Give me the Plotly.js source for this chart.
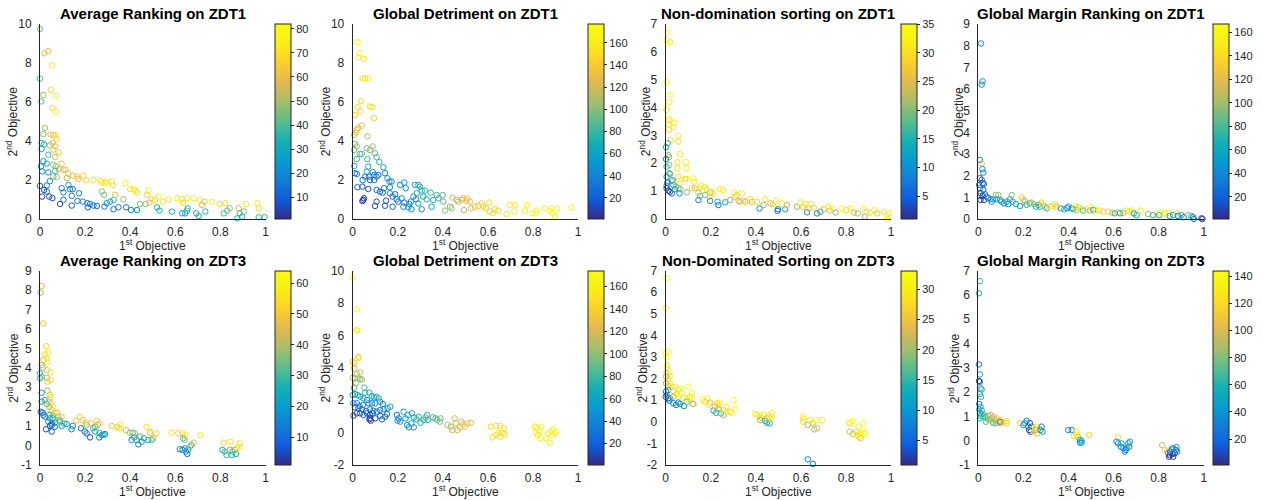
<!DOCTYPE html>
<html>
<head>
<meta charset="utf-8">
<script src="https://cdn.plot.ly/plotly-3.0.1.min.js"></script>
<style>html,body{margin:0;padding:0;background:#fff;}#chart{width:1262px;height:500px;}</style>
</head>
<body>
<div id="chart"></div>
<script>
// ---------- DATA ----------
// Panel titles
const panelTitles = [
  'Average Ranking on ZDT1', 'Global Detriment on ZDT1', 'Non-domination sorting on ZDT1', 'Global Margin Ranking on ZDT1',
  'Average Ranking on ZDT3', 'Global Detriment on ZDT3', 'Non-Dominated Sorting on ZDT3', 'Global Margin Ranking on ZDT3'
];
const xTitle = '1<sup>st</sup> Objective';
const yTitle = '2<sup>nd</sup> Objective';
const xTickVals = [0, 0.2, 0.4, 0.6, 0.8, 1];
const xTickText = ['0', '0.2', '0.4', '0.6', '0.8', '1'];
const yRanges = [[0,10],[0,10],[0,7],[0,9],[-1,9],[-2,10],[-2,7],[-1,7]];
const yTickSteps = [2,2,1,1,1,2,1,1];
const rankMax = [82, 177, 35, 167, 64, 174, 33, 144];
const rankTickSteps = [10, 20, 5, 20, 10, 20, 5, 20];

// Panel 1: Average Ranking on ZDT1
const p1x = [0,0.02,0.037,0.055,0,0.049,0.071,0.015,0.006,0.055,
0.071,0.022,0.015,0.047,0.059,0.067,0.074,0.007,0.018,0.044,
0.056,0.067,0.007,0.059,0.083,0.037,0.067,0.015,0.03,0.096,
0.059,0.004,0.071,0.083,0.104,0.067,0.01,0.037,0.113,0.126,
0.145,0.163,0.193,0.059,0.074,0.119,0.17,0.204,0.237,0.267,
0.274,0.289,0.293,0.319,0.323,0.379,0.4,0.415,0.422,0.43,
0.481,0.474,0,0.03,0.044,0.018,0.03,0.009,0.041,0.055,
0.096,0.104,0.126,0.133,0.141,0.145,0.173,0.089,0.104,0.141,
0.166,0.19,0.21,0.212,0.222,0.237,0.252,0.274,0.284,0.286,
0.296,0.311,0.326,0.333,0.326,0.348,0.37,0.382,0.404,0.43,
0.444,0.468,0.486,0.496,0.511,0.519,0.526,0.545,0.53,0.57,
0.585,0.607,0.63,0.634,0.652,0.63,0.644,0.655,0.652,0.681,
0.708,0.693,0.704,0.719,0.729,0.733,0.763,0.797,0.822,0.815,
0.83,0.841,0.874,0.881,0.886,0.896,0.904,0.914,0.963,0.97,
0.97,0.996];
const p1y = [9.74,8.5,8.62,7.88,7.2,6.63,6.32,6.36,6.03,5.69,
5.5,4.67,4.35,4.33,4.31,4.28,4.1,3.9,3.83,3.78,
3.9,3.73,3.59,3.56,3.42,3.3,3.18,2.96,2.84,2.84,
2.78,2.7,2.7,2.56,2.53,2.47,2.44,2.39,2.53,2.32,
2.23,2.18,2.22,2.18,2.15,2.1,2.06,1.98,2.01,1.98,
1.87,1.84,1.92,1.92,1.75,1.84,1.53,1.53,1.46,1.36,
1.46,1.24,1.7,1.72,1.94,1.49,1.41,1.15,1.15,1.07,
1.58,1.36,1.75,1.53,1.19,1.53,1.32,0.77,0.98,0.69,
0.93,0.89,0.81,0.6,0.77,0.69,0.67,1.41,1.24,0.64,
0.81,0.89,0.98,1.24,0.5,0.6,1.01,0.6,0.46,0.46,
0.77,0.77,0.84,1.01,0.98,0.6,1.15,0.89,0.43,1.01,
0.38,1.07,1.01,0.84,1.07,0.29,0.29,0.55,0.43,1.07,
0.98,0.29,0.15,0.72,0.89,0.38,0.89,0.77,0.81,0.29,
0.43,0.55,0.03,0.55,0.29,0.12,0.38,0.77,0.81,0.55,
0.09,0.09];
const p1c = [45,60,60,72,40,70,75,50,40,70,
72,50,45,60,62,68,70,35,35,50,
58,60,30,58,68,38,60,25,32,62,
50,22,48,58,60,38,20,22,62,62,
63,65,68,45,48,50,58,68,72,72,
72,72,75,72,70,78,72,74,72,70,
78,68,10,15,22,8,10,5,5,6,
18,15,28,20,18,15,18,5,12,8,
15,18,15,12,20,12,10,48,45,15,
22,30,35,60,12,15,48,15,18,20,
45,48,55,68,70,35,76,70,32,72,
30,78,72,68,78,28,25,35,38,78,
76,30,32,58,60,35,76,70,68,38,
42,48,35,58,38,32,45,76,78,70,
35,38];

// Panel 2: Global Detriment on ZDT1
const p2x = [0.022,0.03,0.025,0.05,0.044,0.055,0.069,0.037,0.022,0.033,
0.077,0.087,0.01,0.095,0.04,0.025,0.018,0.015,0.006,0.065,
0.01,0.007,0.018,0.032,0.04,0.062,0.077,0.089,0.099,0.106,
0.118,0.018,0.007,0.065,0.069,0.062,0.089,0.136,0.01,0.018,
0.055,0.072,0.096,0.106,0.114,0.143,0.154,0.044,0.077,0.095,
0.163,0.173,0.021,0.043,0.069,0.106,0.121,0.133,0.139,0.165,
0.21,0.229,0.235,0.165,0.188,0.195,0.217,0.177,0.05,0.047,
0.043,0.106,0.099,0.148,0.143,0.177,0.202,0.225,0.229,0.247,
0.251,0.258,0.269,0.276,0.291,0.298,0.284,0.281,0.291,0.261,
0.306,0.306,0.32,0.313,0.328,0.346,0.35,0.357,0.372,0.38,
0.399,0.402,0.409,0.431,0.439,0.443,0.461,0.468,0.483,0.49,
0.493,0.505,0.508,0.52,0.524,0.542,0.557,0.572,0.579,0.591,
0.606,0.609,0.623,0.631,0.645,0.682,0.697,0.716,0.719,0.764,
0.774,0.798,0.812,0.815,0.852,0.877,0.882,0.886,0.897,0.907,
0.97];
const p2y = [9.07,8.51,8.3,8.22,7.21,7.21,7.21,6.04,5.74,5.51,
5.77,5.74,5.33,5.17,4.79,4.67,4.57,4.43,4.32,4.23,
3.85,3.54,3.72,3.34,3.34,3.63,3.54,3.72,3.37,3.17,
2.93,3.07,2.72,3.07,2.69,2.43,2.41,2.65,2.35,2.31,
2.17,2.17,2.26,2.17,2.26,2.35,2.09,2.0,2.0,2.0,
1.92,1.92,1.63,1.66,1.54,1.49,1.4,1.35,1.58,1.63,
1.75,1.87,1.58,1.32,1.27,1.01,1.06,1.15,1.06,0.98,
0.92,0.89,0.67,0.94,0.68,0.63,0.89,0.63,0.84,0.6,
0.77,0.89,1.15,1.75,1.75,1.66,1.32,1.01,0.8,0.5,
0.5,1.46,1.46,1.15,1.01,1.35,0.63,0.98,1.23,1.06,
1.23,0.89,0.43,0.63,0.55,1.1,0.98,0.89,0.98,1.06,
0.46,0.94,1.06,0.89,0.55,0.63,0.67,0.8,0.67,0.55,
0.84,0.38,0.29,0.5,0.43,0.26,0.72,0.38,0.72,0.43,
0.72,0.29,0.29,0.43,0.55,0.43,0.55,0.29,0.15,0.55,
0.6];
const p2c = [175,170,168,165,160,160,158,150,152,148,
150,150,148,140,130,130,128,125,125,110,
100,95,100,90,90,95,100,105,95,85,
80,80,70,80,70,60,60,65,40,35,
35,30,35,30,30,40,45,30,25,30,
45,45,20,15,15,25,20,20,30,45,
45,50,45,40,35,30,35,25,5,5,
8,15,12,15,15,20,25,30,30,55,
40,55,45,65,70,70,60,45,55,40,
40,70,75,65,70,80,60,75,80,80,
90,85,100,100,105,120,115,110,125,125,
110,130,135,130,128,135,138,140,145,140,
148,145,150,148,150,155,162,160,162,165,
165,168,168,165,170,170,170,172,172,172,
175];

// Panel 3: Non-domination sorting on ZDT1
const p3x = [0.009,0.004,0.019,0.004,0.022,0.016,0.004,0.012,0.019,0.037,
0.015,0.034,0.015,0.056,0.056,0.022,0.009,0.0015,0.064,0.012,
0.015,0.0015,0.052,0.09,0.016,0.004,0.052,0.093,0.016,0.019,
0.056,0.004,0.027,0.031,0.086,0.093,0.123,0.126,0.061,0.007,
0.004,0.034,0.046,0.056,0.064,0.116,0.13,0.15,0.156,0.175,
0.182,0.004,0.012,0.019,0.027,0.041,0.061,0.093,0.145,0.153,
0.175,0.197,0.204,0.212,0.194,0.241,0.256,0.145,0.197,0.23,
0.234,0.264,0.286,0.304,0.308,0.316,0.323,0.33,0.338,0.345,
0.353,0.375,0.382,0.404,0.416,0.441,0.434,0.464,0.476,0.49,
0.498,0.496,0.516,0.53,0.538,0.582,0.597,0.609,0.619,0.627,
0.634,0.644,0.656,0.671,0.686,0.701,0.723,0.727,0.738,0.753,
0.779,0.801,0.819,0.834,0.852,0.876,0.883,0.89,0.905,0.926,
0.938,0.967,0.979,0.982,0.99];
const p3y = [6.68,6.41,6.35,4.91,4.46,4.2,3.92,3.58,3.54,3.46,
3.38,3.3,3.2,2.98,2.78,2.84,2.72,2.58,2.33,2.3,
2.22,2.15,2.04,2.04,1.94,1.88,1.82,1.82,1.64,1.62,
1.52,1.52,1.37,1.4,1.44,1.44,1.46,1.34,1.28,1.31,
1.19,1.22,1.16,1.1,1.07,1.1,1.1,1.1,1.2,1.14,
1.07,1.1,1.01,0.98,0.92,1.07,0.92,0.96,0.95,0.83,
0.86,0.95,0.98,0.92,0.8,1.07,1.04,0.68,0.65,0.62,
0.5,0.6,0.68,0.95,0.8,0.86,0.65,0.62,0.92,0.66,
0.62,0.72,0.62,0.62,0.38,0.71,0.5,0.56,0.54,0.68,
0.35,0.29,0.56,0.35,0.5,0.44,0.6,0.44,0.54,0.24,
0.38,0.54,0.41,0.2,0.26,0.35,0.44,0.3,0.38,0.23,
0.38,0.32,0.38,0.23,0.2,0.38,0.08,0.26,0.23,0.32,
0.2,0.26,0.11,0.0,0.2];
const p3c = [35,34,34,33,34,33,30,31,33,33,
30,31,30,32,30,30,15,13,33,20,
22,8,30,32,20,15,29,32,18,17,
30,10,16,18,28,32,33,32,29,6,
8,14,19,20,22,28,25,32,30,32,
29,3,2,3,5,12,9,20,22,20,
19,25,30,33,28,33,32,8,10,14,
6,12,20,33,28,30,25,24,33,28,
25,32,25,29,8,33,20,25,28,33,
8,6,32,12,25,20,33,28,32,8,
25,32,28,8,14,25,32,24,33,20,
32,30,33,25,22,32,20,30,29,33,
26,32,33,33,32];

// Panel 4: Global Margin Ranking on ZDT1
const p4x = [0.012,0.019,0.015,0.007,0.015,0.018,0.022,0.007,0.015,0.019,
0.025,0.004,0.007,0.022,0.01,0.007,0.019,0.03,0.037,0.01,
0.025,0.044,0.055,0.066,0.059,0.078,0.089,0.081,0.096,0.103,
0.114,0.126,0.133,0.14,0.148,0.152,0.167,0.185,0.192,0.2,
0.207,0.214,0.229,0.236,0.247,0.256,0.266,0.273,0.281,0.288,
0.295,0.303,0.32,0.332,0.34,0.347,0.366,0.381,0.394,0.399,
0.414,0.421,0.428,0.436,0.443,0.458,0.465,0.48,0.495,0.502,
0.51,0.521,0.536,0.554,0.576,0.595,0.606,0.62,0.628,0.643,
0.657,0.669,0.68,0.69,0.702,0.72,0.753,0.775,0.79,0.802,
0.812,0.827,0.842,0.849,0.864,0.882,0.886,0.901,0.911,0.931,
0.945,0.953,0.956,0.99,0.994];
const p4y = [8.1,6.35,6.2,2.73,2.57,2.3,2.14,1.88,1.8,1.65,
1.62,1.57,1.42,1.34,1.19,1.06,1.06,1.14,1.03,0.88,
0.88,0.96,0.91,0.91,0.8,1.11,1.11,0.91,0.88,0.8,
0.72,0.8,0.69,0.91,1.11,0.8,0.69,0.6,1.0,0.88,
0.8,0.65,0.72,0.76,0.69,0.57,0.65,0.57,0.76,0.65,
0.57,0.49,0.57,0.62,0.69,0.57,0.49,0.45,0.49,0.57,
0.49,0.45,0.57,0.42,0.54,0.49,0.39,0.45,0.39,0.54,
0.42,0.39,0.39,0.34,0.34,0.29,0.26,0.31,0.26,0.29,
0.39,0.34,0.39,0.26,0.18,0.39,0.23,0.18,0.26,0.18,
0.29,0.26,0.29,0.14,0.18,0.26,0.14,0.18,0.08,0.18,
0.14,0.08,0.0,0.03,0.0];
const p4c = [40,45,42,30,120,55,35,8,25,5,
30,20,60,25,6,65,5,35,30,3,
5,35,38,55,40,95,100,40,60,40,
35,55,38,65,90,60,65,60,140,120,
100,70,75,105,100,70,75,65,130,140,
105,70,145,155,150,125,65,70,40,65,
30,70,155,100,125,150,75,140,100,155,
65,145,145,140,135,105,70,120,65,95,
155,145,160,60,65,150,95,70,145,60,
155,150,160,65,60,140,40,70,30,95,
75,35,40,5,8];

// Panel 5: Average Ranking on ZDT3
const p5x = [0.007,0.003,0.015,0.027,0.037,0.022,0.03,0.015,0.033,0.007,
0.012,0.03,0.047,0,0.007,0.03,0.047,0.033,0,0.033,
0.007,0.044,0.047,0.022,0.007,0.037,0.047,0.03,0.041,0.059,
0.052,0.003,0.012,0.066,0.077,0.015,0.041,0.056,0.022,0.081,
0.096,0.044,0.056,0.066,0.086,0.037,0.052,0.066,0.089,0.108,
0.118,0.052,0.044,0.066,0.027,0.052,0.096,0.145,0.14,0.16,
0.177,0.189,0.204,0.207,0.182,0.199,0.207,0.222,0.225,0.236,
0.244,0.251,0.256,0.266,0.244,0.263,0.263,0.273,0.281,0.288,
0.318,0.343,0.351,0.357,0.381,0.399,0.411,0.421,0.406,0.418,
0.428,0.436,0.443,0.451,0.461,0.473,0.48,0.487,0.49,0.495,
0.502,0.517,0.583,0.613,0.632,0.642,0.635,0.642,0.62,0.632,
0.642,0.647,0.653,0.657,0.665,0.672,0.682,0.712,0.815,0.809,
0.819,0.827,0.842,0.845,0.854,0.864,0.869,0.874,0.883,0.886,
0.85];
const p5y = [8.21,7.87,6.29,5.12,4.78,4.69,4.49,4.4,4.27,4.15,
4.03,3.89,3.77,3.72,3.55,3.49,3.37,3.29,3.46,2.83,
2.72,2.6,2.48,2.34,2.26,2.26,2.17,2.14,2.0,1.97,
1.83,1.74,1.69,1.69,1.69,1.57,1.57,1.54,1.49,1.49,
1.49,1.4,1.4,1.35,1.32,1.23,1.14,1.18,1.23,1.14,
1.11,1.06,1.01,0.97,0.84,0.72,1.01,1.01,0.84,1.28,
1.49,1.32,1.18,1.06,0.89,0.72,0.63,0.42,1.14,0.89,
0.97,1.28,1.06,1.14,0.72,0.66,0.42,0.54,0.56,0.59,
1.01,0.97,0.89,1.09,0.8,0.66,0.66,0.63,0.29,0.42,
0.29,0.06,0.46,0.2,0.37,0.97,0.29,0.71,0.63,0.29,
0.37,0.63,0.66,0.63,0.63,0.54,0.37,0.29,-0.19,-0.22,
-0.14,-0.31,-0.43,-0.22,-0.06,0.03,0.15,0.54,0.15,-0.22,
-0.31,-0.49,-0.22,0.2,-0.31,-0.22,-0.43,-0.14,-0.06,0.11,
-0.49];
const p5c = [45,38,50,55,58,55,55,50,56,38,
40,50,55,28,30,40,55,48,30,38,
18,52,52,30,15,45,48,32,38,55,
48,10,12,52,48,10,28,35,12,45,
48,18,25,35,38,12,15,25,28,28,
25,6,5,12,5,6,22,15,12,48,
52,50,48,38,12,10,12,6,50,28,
35,52,40,50,25,28,12,25,18,15,
48,50,52,58,48,40,30,42,15,25,
28,12,30,18,25,55,28,55,48,30,
38,52,55,52,55,58,28,40,15,12,
18,15,12,25,35,30,45,58,52,25,
28,30,38,55,30,35,28,52,58,55,
28];

// Panel 6: Global Detriment on ZDT3
const p6x = [0,0.018,0.018,0.021,0,0.007,0.025,0.025,0.006,0.033,
0.018,0,0.01,0.025,0.033,0.04,0.015,0.006,0.052,0.055,
0.074,0,0.01,0.022,0.033,0.085,0.095,0.104,0.115,0.048,
0.063,0.003,0.018,0.03,0.045,0.07,0.085,0.1,0.122,0.134,
0.155,0.167,0.025,0.01,0.04,0.06,0.077,0.092,0.107,0.122,
0.137,0.003,0.018,0.033,0.048,0.063,0.077,0.089,0.1,0.077,
0.08,0.074,0.122,0.13,0.144,0.152,0.196,0.204,0.199,0.211,
0.226,0.244,0.234,0.241,0.249,0.26,0.263,0.271,0.271,0.283,
0.293,0.301,0.315,0.323,0.33,0.333,0.357,0.368,0.375,0.387,
0.39,0.42,0.435,0.442,0.452,0.457,0.464,0.476,0.482,0.491,
0.497,0.509,0.524,0.613,0.635,0.655,0.67,0.62,0.635,0.646,
0.655,0.662,0.673,0.807,0.818,0.836,0.81,0.821,0.829,0.833,
0.859,0.874,0.866,0.878,0.888,0.896,0.903,0.884];
const p6y = [9.59,7.61,6.34,6.3,4.38,4.28,4.69,4.59,3.97,3.72,
3.62,3.39,3.35,3.35,3.29,3.29,3.08,2.77,2.77,2.47,
2.47,2.32,2.38,2.32,2.22,2.26,2.18,2.22,2.12,2.12,
2.01,1.81,1.81,1.64,1.7,1.81,1.81,1.81,1.91,1.77,
1.5,1.6,1.5,1.56,1.44,1.33,1.44,1.35,1.29,1.4,
1.44,1.05,1.19,1.19,1.09,1.19,1.09,1.19,0.88,0.88,
0.74,0.82,1.03,0.82,0.98,1.15,1.09,0.88,0.74,0.68,
1.29,1.09,0.88,0.47,0.33,0.57,1.19,0.94,0.33,0.82,
0.98,0.61,0.78,0.94,1.09,0.78,0.94,0.88,0.78,0.68,
0.88,0.47,0.37,0.16,0.88,0.57,0.16,0.33,0.68,0.53,
0.37,0.57,0.61,0.37,0.41,0.41,0.27,-0.29,-0.15,-0.05,
-0.25,0,-0.09,0.37,0.27,0.37,0,-0.15,0.06,-0.35,
-0.35,-0.62,-0.05,0.06,0.2,-0.05,0.06,-0.15];
const p6c = [172,168,162,160,140,140,142,140,125,120,
118,110,105,105,100,100,100,85,80,75,
75,70,68,65,65,72,70,72,70,50,
60,40,35,30,35,40,45,40,55,45,
45,55,30,25,25,20,30,25,30,35,
40,10,12,10,15,20,15,20,12,8,
5,5,15,20,25,30,35,35,40,45,
60,65,55,50,45,55,65,60,50,70,
75,70,75,78,80,75,80,85,90,95,
90,105,110,115,120,115,118,120,125,125,
128,130,128,145,148,150,148,145,150,150,
152,150,148,158,160,160,162,158,160,162,
165,165,168,170,168,170,172,168];

// Panel 7: Non-Dominated Sorting on ZDT3
const p7x = [0.004,0,0,0.012,0.004,0.007,0.004,0.016,0.004,0.019,
0.0015,0.012,0.0015,0.019,0.012,0.027,0.041,0.056,0.064,0.101,
0.0015,0.012,0.034,0.049,0.071,0.116,0.004,0,0.012,0.016,
0.019,0.034,0.056,0.079,0.093,0.108,0.116,0.034,0.046,0.064,
0.081,0.093,0.12,0.123,0.056,0.164,0.185,0.175,0.19,0.197,
0.212,0.224,0.227,0.234,0.239,0.219,0.234,0.244,0.256,0.256,
0.268,0.271,0.286,0.293,0.301,0.308,0.397,0.404,0.419,0.419,
0.427,0.434,0.441,0.449,0.449,0.461,0.464,0.471,0.471,0.456,
0.609,0.612,0.609,0.63,0.641,0.653,0.659,0.671,0.668,0.693,
0.63,0.653,0.812,0.819,0.83,0.816,0.83,0.846,0.856,0.856,
0.864,0.871,0.876,0.879,0.886,0.864,0.849];
const p7y = [6.64,5.26,3.17,3.25,2.99,2.63,2.52,2.32,2.25,2.12,
2.09,1.97,1.78,1.78,1.66,1.63,1.63,1.47,1.55,1.63,
1.4,1.47,1.4,1.29,1.32,1.32,1.24,1.16,1.09,0.98,
1.09,1.16,1.16,1.13,1.09,1.16,1.09,0.86,0.78,0.83,
0.73,0.93,0.83,0.83,0.89,1.04,1.09,0.93,0.78,0.89,
0.52,0.42,0.86,0.78,0.89,0.7,0.58,0.39,0.32,0.55,
0.7,0.47,0.47,0.42,1.01,0.58,0.39,0.32,0.24,0.08,
0.16,0.32,0.05,-0.04,0.16,-0.07,0.16,0.42,0.24,0.27,
0.24,0.12,0.01,-0.15,0.08,-0.07,-0.35,-0.3,0.08,0.08,
-1.74,-1.95,-0.04,-0.07,0.05,-0.46,-0.56,-0.46,-0.22,-0.69,
-0.53,-0.38,-0.07,-0.56,-0.5,-0.76,-0.61];
const p7c = [33,32,32,33,32,30,29,32,25,30,
22,28,20,31,25,28,32,29,32,33,
5,12,28,27,32,33,12,3,2,3,
14,22,28,31,29,28,30,8,8,12,
8,18,20,24,10,32,33,28,29,25,
12,14,28,27,32,24,20,15,20,28,
32,29,28,31,33,32,32,30,28,20,
24,33,14,12,22,12,28,32,33,29,
33,30,28,20,32,24,20,24,33,32,
8,8,32,30,33,24,22,28,32,29,
30,33,32,32,33,25,29];

// Panel 8: Global Margin Ranking on ZDT3
const p8x = [0.007,0.003,0.003,0.007,0.003,0.007,0.01,0.015,0.007,0.012,
0.004,0.01,0.004,0.015,0.007,0.019,0.01,0.022,0.007,0.03,
0.037,0.044,0.049,0.055,0.059,0.064,0.069,0.074,0.078,0.081,
0.089,0.096,0.103,0.099,0.111,0.126,0.126,0.066,0.034,0.096,
0.185,0.2,0.207,0.214,0.222,0.229,0.226,0.232,0.236,0.244,
0.247,0.256,0.258,0.261,0.27,0.276,0.285,0.281,0.399,0.414,
0.436,0.436,0.443,0.451,0.451,0.458,0.458,0.424,0.492,0.62,
0.613,0.62,0.632,0.643,0.65,0.657,0.665,0.669,0.672,0.654,
0.635,0.815,0.827,0.842,0.849,0.852,0.861,0.864,0.872,0.876,
0.879,0.882,0.838,0.857,0.864,0.846];
const p8y = [6.57,6.07,3.14,2.73,2.46,2.43,2.16,2.11,1.92,1.81,
1.51,1.4,1.29,1.24,1.13,1.1,1.02,0.99,0.92,0.99,
0.92,1.02,0.85,1.06,0.92,0.78,0.99,0.85,0.72,0.92,
0.78,0.85,0.78,0.72,0.75,0.82,0.72,0.72,0.78,0.78,
0.72,0.65,0.72,0.82,0.58,0.72,0.44,0.37,0.58,0.51,
0.37,0.58,0.44,0.3,0.51,0.44,0.37,0.58,0.44,0.44,
0.37,0.24,0.14,0.03,-0.08,0,-0.08,0.19,0.24,0.14,
-0.04,-0.11,-0.25,-0.31,-0.45,-0.31,-0.11,-0.25,-0.04,-0.38,
-0.11,-0.18,-0.38,-0.52,-0.59,-0.45,-0.55,-0.66,-0.52,-0.38,
-0.27,-0.45,-0.45,-0.36,-0.31,-0.66];
const p8c = [65,60,25,55,8,20,60,55,60,65,
30,55,50,60,40,65,55,60,60,70,
75,80,85,95,85,80,100,90,80,105,
100,115,110,100,115,125,118,80,75,55,
115,35,40,35,30,10,5,8,25,120,
130,135,100,105,125,35,40,30,35,40,
140,120,100,55,40,60,40,120,115,120,
35,40,30,40,35,45,40,35,40,30,
50,100,120,25,5,10,5,8,10,25,
35,30,105,30,35,5];

// ---------- LAYOUT / STYLE ----------
const xs = [p1x,p2x,p3x,p4x,p5x,p6x,p7x,p8x];
const ys = [p1y,p2y,p3y,p4y,p5y,p6y,p7y,p8y];
const cs = [p1c,p2c,p3c,p4c,p5c,p6c,p7c,p8c];

const W = 1262, H = 500;
const colLeft = [40, 352.7, 665.7, 978.3];
const plotW = 225.5;
const rowTop = [24, 270.7], rowBottom = [219, 465];
const titleY = [13, 260];
const xTitleY = [245, 491];
const yTitleOffset = [29, 28, 21, 21, 27, 28, 24, 24];
const FONT = 'Liberation Sans, Arial, Helvetica, sans-serif';
const TXT = '#262626';

const parula = [
  [0.0,'rgb(53,42,135)'],[0.1,'rgb(15,92,221)'],[0.2,'rgb(18,125,216)'],
  [0.3,'rgb(7,156,207)'],[0.4,'rgb(21,177,180)'],[0.5,'rgb(89,189,140)'],
  [0.6,'rgb(165,190,107)'],[0.7,'rgb(225,185,82)'],[0.8,'rgb(252,206,46)'],
  [0.9,'rgb(250,237,22)'],[1.0,'rgb(249,251,14)']
];

function fmt(v){ return (v < 0 ? '-' : '') + Math.abs(v); }

const traces = [];
const layout = {
  width: W, height: H,
  margin: {l:0, r:0, t:0, b:0},
  paper_bgcolor: '#ffffff', plot_bgcolor: '#ffffff',
  showlegend: false,
  font: {family: FONT, color: TXT, size: 12},
  annotations: []
};

for (let i = 0; i < 8; i++) {
  const col = i % 4, row = Math.floor(i / 4);
  const n = i + 1;
  const xk = n === 1 ? 'xaxis' : 'xaxis' + n;
  const yk = n === 1 ? 'yaxis' : 'yaxis' + n;
  const xr = n === 1 ? 'x' : 'x' + n;
  const yr = n === 1 ? 'y' : 'y' + n;
  const x0 = colLeft[col], x1 = x0 + plotW;
  const yT = rowTop[row], yB = rowBottom[row];

  const yv = [], yt = [];
  for (let v = yRanges[i][0]; v <= yRanges[i][1] + 1e-9; v += yTickSteps[i]) { yv.push(v); yt.push(fmt(v)); }

  layout[xk] = {
    domain: [x0 / W, x1 / W], anchor: yr, range: [0, 1],
    showline: true, linecolor: TXT, linewidth: 1, mirror: false,
    showgrid: false, zeroline: false, ticks: '',
    tickmode: 'array', tickvals: xTickVals, ticktext: xTickText,
    tickfont: {family: FONT, size: 12, color: TXT},
    ticklabelstandoff: 2,
    automargin: false, fixedrange: true
  };
  layout[yk] = {
    domain: [1 - yB / H, 1 - yT / H], anchor: xr, range: yRanges[i],
    showline: true, linecolor: TXT, linewidth: 1, mirror: false,
    showgrid: false, zeroline: false, ticks: '',
    tickmode: 'array', tickvals: yv, ticktext: yt,
    tickfont: {family: FONT, size: 12, color: TXT},
    ticklabelstandoff: 5,
    automargin: false, fixedrange: true
  };

  traces.push({
    type: 'scatter', mode: 'markers', x: xs[i], y: ys[i],
    xaxis: xr, yaxis: yr, cliponaxis: false, hoverinfo: 'skip',
    marker: {
      symbol: 'circle-open', size: 5.5, color: cs[i],
      colorscale: parula, cmin: 1, cmax: rankMax[i],
      line: {width: 1},
      colorbar: {
        x: (x0 + 235) / W, xanchor: 'left', xpad: 0,
        y: 1 - ((yT + yB) / 2) / H, yanchor: 'middle', ypad: 0,
        len: yB - yT, lenmode: 'pixels',
        thickness: 16, thicknessmode: 'pixels',
        outlinewidth: 1, outlinecolor: TXT,
        ticks: 'outside', ticklen: 3, tickcolor: TXT, tickwidth: 1,
        tick0: 0, dtick: rankTickSteps[i],
        tickfont: {family: FONT, size: 11, color: TXT}
      }
    }
  });

  // panel title
  layout.annotations.push({
    xref: 'paper', yref: 'paper', x: (x0 + x1) / 2 / W, y: 1 - titleY[row] / H,
    xanchor: 'center', yanchor: 'middle', showarrow: false,
    text: '<b>' + panelTitles[i] + '</b>',
    font: {family: FONT, size: 15, color: '#000000'}
  });
  // x-axis title
  layout.annotations.push({
    xref: 'paper', yref: 'paper', x: (x0 + x1) / 2 / W, y: 1 - xTitleY[row] / H,
    xanchor: 'center', yanchor: 'middle', showarrow: false,
    text: xTitle, font: {family: FONT, size: 12, color: TXT}
  });
  // y-axis title
  layout.annotations.push({
    xref: 'paper', yref: 'paper', x: (x0 - yTitleOffset[i]) / W, y: 1 - ((yT + yB) / 2) / H,
    xanchor: 'center', yanchor: 'middle', showarrow: false, textangle: -90,
    text: yTitle, font: {family: FONT, size: 12, color: TXT}
  });
}

Plotly.newPlot('chart', traces, layout, {staticPlot: true, displayModeBar: false});
</script>
</body>
</html>
